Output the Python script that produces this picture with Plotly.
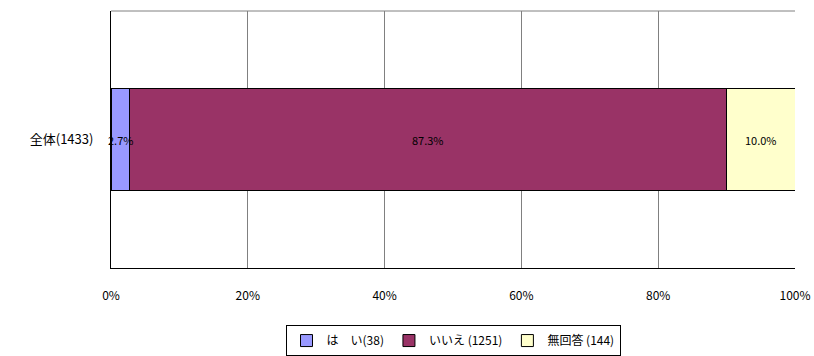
import plotly.graph_objects as go

categories = ["全体(1433)"]
series_names = ["は　い(38)", "いいえ (1251)", "無回答 (144)"]
series_values = [[2.7], [87.3], [10.0]]
colors = ["#9999FF", "#993366", "#FFFFCC"]
tick_vals = [0, 20, 40, 60, 80, 100]
tick_text = ["0%", "20%", "40%", "60%", "80%", "100%"]

font = "Noto Sans CJK JP, sans-serif"

fig = go.Figure()
for name, vals, color in zip(series_names, series_values, colors):
    fig.add_trace(go.Bar(
        y=categories, x=vals, name=name, orientation="h",
        marker=dict(color=color, line=dict(color="#000000", width=1)),
        width=0.4,
    ))

# value labels, centred in each segment
left = 0
for vals in series_values:
    v = vals[0]
    fig.add_annotation(x=left + v / 2, y=categories[0], text=f"{v:.1f}%",
                       showarrow=False, font=dict(size=11, color="#000000", family=font))
    left += v

fig.update_layout(
    barmode="stack",
    width=814, height=356,
    margin=dict(l=111, r=19, t=11, b=88, autoexpand=False),
    plot_bgcolor="#FFFFFF", paper_bgcolor="#FFFFFF",
    font=dict(family=font, size=12, color="#000000"),
    xaxis=dict(range=[0, 100], tickvals=tick_vals, ticktext=tick_text,
               showgrid=True, gridcolor="#808080", gridwidth=1,
               showline=True, linecolor="#000000", mirror=False,
               ticks="outside", ticklen=17, tickcolor="rgba(0,0,0,0)",
               zeroline=False, fixedrange=True, automargin=False,
               ticklabeloverflow="allow", tickfont=dict(size=12)),
    yaxis=dict(showline=True, linecolor="#000000", ticks="", showgrid=False,
               tickfont=dict(size=13), ticklabelstandoff=14, automargin=False,
               range=[-0.5, 0.5], fixedrange=True),
    legend=dict(orientation="h", x=0.5, xanchor="center", y=-0.222, yanchor="top",
                traceorder="normal",
                bordercolor="#000000", borderwidth=1, font=dict(size=12),
                itemwidth=30, tracegroupgap=0),
    shapes=[dict(type="line", xref="paper", yref="paper", x0=0, x1=1, y0=1, y1=1,
                 line=dict(color="#808080", width=1))],
)

fig.write_html("out.html", config={"displayModeBar": False},
               post_script="document.body.style.margin='0';")
